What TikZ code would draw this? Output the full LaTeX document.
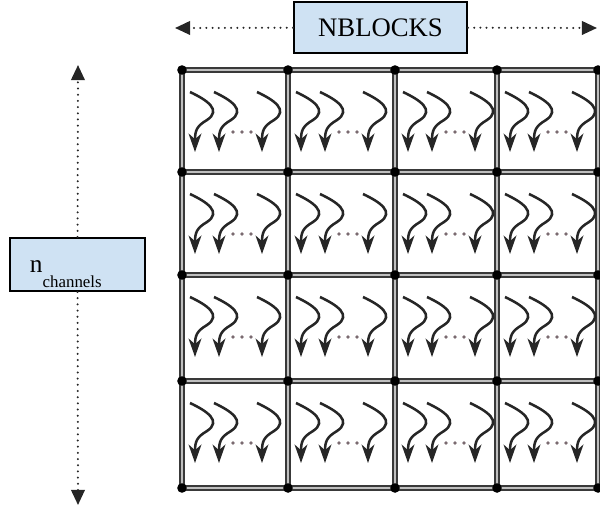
\documentclass[tikz,border=0pt]{standalone}
\usepackage{fontspec}
\setmainfont{Liberation Serif}
\usetikzlibrary{arrows.meta,positioning}
\definecolor{boxblue}{HTML}{CFE2F3}
\definecolor{dotgray}{HTML}{7A6A70}

\begin{document}
\begin{tikzpicture}[x=0.025cm, y=-0.025cm,  % pixel-like units
  labelbox/.style={draw=black, line width=1.4pt, fill=boxblue},
  dimarrow/.style={draw=black!85, line width=1.6pt, line cap=round,
                   dash pattern=on 0pt off 4.4pt,
                   -{Triangle[length=0.38cm, width=0.34cm]}},
  gridline/.style={draw=gray!45!black, double=gray!50, line width=1pt,
                   double distance=1.6pt},
  wave/.style={line width=1.8pt, black!85,
               -{Stealth[length=0.46cm, width=0.32cm, inset=0.14cm]}}
]
\useasboundingbox (0,0) rectangle (600,509);

% --- Labels ---
\node[labelbox, minimum width=4.325cm, minimum height=1.275cm,
      font=\fontsize{19}{22}\selectfont] (nblocks) at (380.5,27.5) {NBLOCKS};
\node[labelbox, minimum width=3.375cm, minimum height=1.325cm,
      inner xsep=0.5cm, text width=2.375cm, align=left,
      text height=16pt, text depth=4pt,
      font=\fontsize{18}{20}\selectfont] (nchan) at (77.5,264.5)
      {n\raisebox{-10pt}{\fontsize{12}{14}\selectfont channels}};

\coordinate (blkL) at (175,28);
\coordinate (blkR) at (597,28);
\coordinate (chTop) at (78,65);
\coordinate (chBot) at (78,505);

% --- Dimension arrows ---
\draw[dimarrow] (nblocks) -- (blkL);
\draw[dimarrow] (nblocks) -- (blkR);
\draw[dimarrow] (nchan) -- (chTop);
\draw[dimarrow] (nchan) -- (chBot);

% --- Grid of blocks ---
\foreach \x [count=\i] in {182,288,395,497,598}
  \foreach \y [count=\j] in {70,172,275,381,488}
    \coordinate (p-\i-\j) at (\x,\y);

\foreach \j in {1,...,5}
  \draw[gridline] (p-1-\j) -- (p-5-\j);
\foreach \i in {1,...,5}
  \draw[gridline] (p-\i-1) -- (p-\i-5);
\foreach \i in {1,...,5}
  \foreach \j in {1,...,5}
    \fill[black] (p-\i-\j) circle (0.12cm);

% --- Threads in each block ---
\foreach \x in {182,288,395,497}
  \foreach \y in {70,172,275,381} {
    \begin{scope}[shift={(\x,\y)}]
      \foreach \dx in {0,24,67}
        \draw[wave] (8+\dx,22) .. controls (25+\dx,30) and (40+\dx,40) .. (25+\dx,50)
                    .. controls (15+\dx,56) and (13+\dx,60) .. (13+\dx,82);
      \foreach \dx in {51,60,69}
        \fill[dotgray] (\dx,62) circle (0.045cm);
    \end{scope}
  }

\end{tikzpicture}
\end{document}
